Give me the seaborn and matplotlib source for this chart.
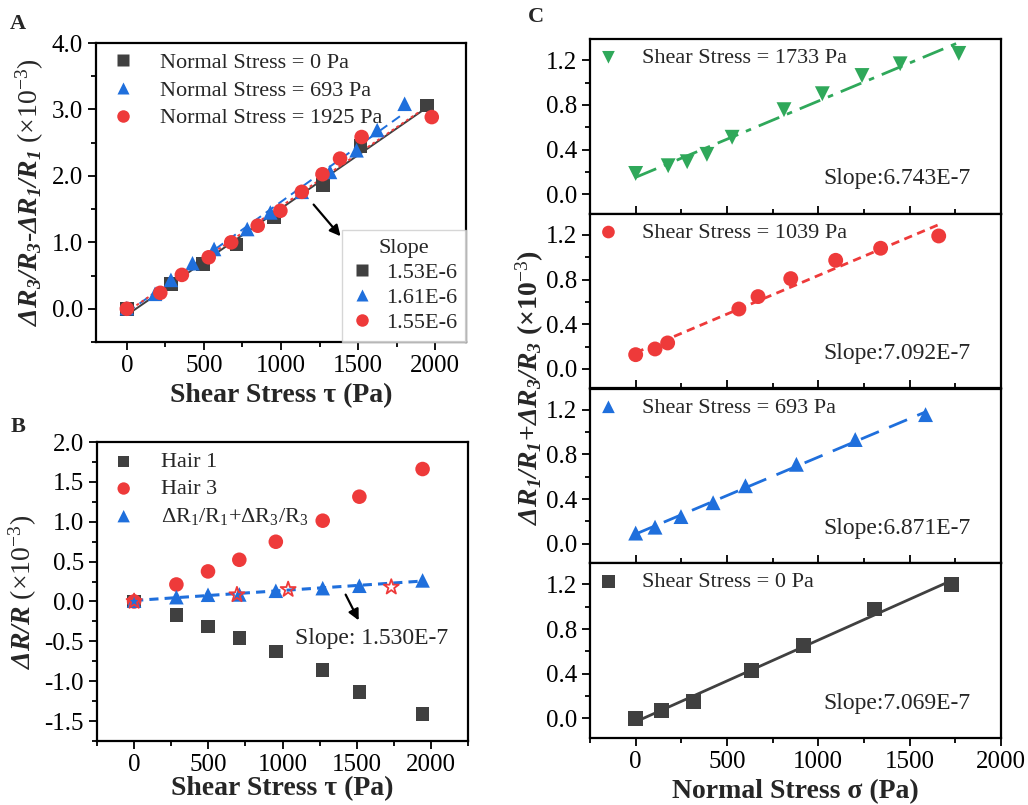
import numpy as np
import pandas as pd
import matplotlib.pyplot as plt
import seaborn as sns
from matplotlib.ticker import AutoMinorLocator, FormatStrFormatter

# ---- panel A data (x10^-3) ----
a0_x = [0, 286, 495, 710, 953, 1271, 1516, 1946]
a0_y = [0.0, 0.375, 0.675, 0.965, 1.375, 1.86, 2.45, 3.06]
a693_x = [0, 183, 286, 426, 566, 781, 931, 1135, 1318, 1490, 1624, 1802]
a693_y = [0.01, 0.225, 0.435, 0.685, 0.9, 1.2, 1.45, 1.76, 2.06, 2.385, 2.69, 3.085]
a1925_x = [0, 217, 357, 531, 677, 849, 996, 1135, 1269, 1383, 1523, 1978]
a1925_y = [0.0, 0.24, 0.51, 0.775, 1.0, 1.25, 1.475, 1.76, 2.025, 2.26, 2.585, 2.885]
a_labels = ['Normal Stress = 0 Pa', 'Normal Stress = 693 Pa', 'Normal Stress = 1925 Pa']
a_slopes = ['1.53E-6', '1.61E-6', '1.55E-6']

# ---- panel B data ----
b_x = [0, 285, 498, 709, 955, 1271, 1518, 1944]
hair1 = [0.0, -0.167, -0.314, -0.456, -0.628, -0.858, -1.134, -1.41]
hair3 = [0.0, 0.213, 0.377, 0.523, 0.749, 1.013, 1.314, 1.661]
hair_sum = [0.01, 0.054, 0.084, 0.088, 0.134, 0.167, 0.197, 0.264]
star_x = [0, 693, 1038, 1733]
star_y = [0.0, 0.084, 0.15, 0.18]

# ---- panel C data ----
c1733_x = [0, 178, 282, 390, 528, 812, 1022, 1239, 1448, 1769]
c1733_y = [0.186, 0.255, 0.291, 0.357, 0.51, 0.757, 0.9, 1.063, 1.168, 1.261]
c1039_x = [0, 106, 175, 565, 670, 849, 1095, 1341, 1659]
c1039_y = [0.128, 0.179, 0.233, 0.537, 0.648, 0.809, 0.973, 1.081, 1.191]
c693_x = [0, 106, 248, 424, 601, 880, 1202, 1587]
c693_y = [0.095, 0.148, 0.243, 0.367, 0.519, 0.711, 0.933, 1.156]
c0_x = [0, 142, 317, 634, 920, 1308, 1730]
c0_y = [0.0, 0.069, 0.151, 0.431, 0.657, 0.98, 1.2]
c_slopes = ['Slope:6.743E-7', 'Slope:7.092E-7', 'Slope:6.871E-7', 'Slope:7.069E-7']
c_labels = ['Shear Stress = 1733 Pa', 'Shear Stress = 1039 Pa',
            'Shear Stress = 693 Pa', 'Shear Stress = 0 Pa']

GRAY = '#404040'
BLUE = '#1f6fdc'
RED = '#ee3a3a'
GREEN = '#2fa85a'

sns.set_theme(style="ticks")
plt.rcParams['font.family'] = ['Liberation Serif', 'DejaVu Serif']
plt.rcParams['mathtext.fontset'] = 'custom'
plt.rcParams['mathtext.rm'] = 'Liberation Serif'
plt.rcParams['mathtext.it'] = 'Liberation Serif:italic'
plt.rcParams['mathtext.bf'] = 'Liberation Serif:bold'
plt.rcParams['mathtext.bfit'] = 'Liberation Serif:italic:bold'
plt.rcParams['axes.unicode_minus'] = False

fig = plt.figure(figsize=(10.28, 8.05), dpi=100)
W, H = 1028, 805


def box(l, t, r, b):
    return [l / W, 1 - b / H, (r - l) / W, (b - t) / H]


def style(ax, direction='out'):
    for s in ax.spines.values():
        s.set_linewidth(1.6)
        s.set_color('black')
    ax.tick_params(which='both', direction=direction, width=1.3, labelsize=18,
                   colors='black', top=False, right=False)
    ax.tick_params(which='major', length=6)
    ax.tick_params(which='minor', length=3.5)
    ax.xaxis.set_minor_locator(AutoMinorLocator(2))
    ax.yaxis.set_minor_locator(AutoMinorLocator(2))


# ================= A =================
axA = fig.add_axes(box(96, 43, 466, 342))
sets = [(a0_x, a0_y, GRAY, 's', '-', 95), (a693_x, a693_y, BLUE, '^', (0, (5, 3)), 110),
        (a1925_x, a1925_y, RED, 'o', (0, (1.5, 1.5)), 110)]
handles = []
for (x, y, c, m, ls, sz), lab in zip(sets, a_labels):
    df = pd.DataFrame({'x': x, 'y': y})
    sns.scatterplot(data=df, x='x', y='y', ax=axA, color=c, marker=m, s=sz,
                    edgecolor='none', zorder=3)
    sns.regplot(data=df, x='x', y='y', ax=axA, scatter=False, ci=None,
                line_kws=dict(color=c, ls=ls, lw=1.4, zorder=2))
    handles.append(plt.Line2D([], [], color=c, marker=m, ls='none', markersize=9,
                              markeredgecolor='none'))
leg1 = axA.legend(handles, a_labels, loc='upper left', frameon=False, fontsize=16,
                  handlelength=1.0, handletextpad=1.2, labelspacing=0.32,
                  bbox_to_anchor=(0.0, 1.02), borderaxespad=0.3)
axA.add_artist(leg1)
leg2 = axA.legend(handles, a_slopes, loc='lower right', frameon=True, fontsize=16,
                  title='Slope', title_fontsize=16, handlelength=1.0, handletextpad=0.6,
                  labelspacing=0.2, borderaxespad=0.0, fancybox=False,
                  bbox_to_anchor=(1.0, 0.0))
leg2.get_frame().set_edgecolor('#cccccc')
leg2.get_frame().set_linewidth(1.0)
axA.annotate('', xy=(1398, 1.06), xytext=(1200, 1.6),
             arrowprops=dict(arrowstyle='-|>', color='black', lw=1.6, mutation_scale=16))
axA.set_xlim(-200, 2200)
axA.set_ylim(-0.5, 4.0)
axA.set_xticks([0, 500, 1000, 1500, 2000])
axA.set_yticks([0, 1, 2, 3, 4])
axA.yaxis.set_major_formatter(FormatStrFormatter('%.1f'))
style(axA)
axA.set_xlabel('Shear Stress τ (Pa)', fontsize=20, fontweight='bold', labelpad=4)
axA.set_ylabel(r'$\mathbfit{\Delta R_3/R_3}$-$\mathbfit{\Delta R_1/R_1}$ (×10$^{-3}$)',
               fontsize=20, labelpad=4)

# ================= B =================
axB = fig.add_axes(box(97, 442, 468, 741))
dfB = pd.DataFrame({'x': b_x, 'h1': hair1, 'h3': hair3, 'hs': hair_sum})
sns.scatterplot(data=dfB, x='x', y='h1', ax=axB, color=GRAY, marker='s', s=95,
                edgecolor='none', zorder=3, label='Hair 1')
sns.scatterplot(data=dfB, x='x', y='h3', ax=axB, color=RED, marker='o', s=110,
                edgecolor='none', zorder=3, label='Hair 3')
sns.scatterplot(data=dfB, x='x', y='hs', ax=axB, color=BLUE, marker='^', s=110,
                edgecolor='none', zorder=3, label=r'$\mathrm{\Delta R_1/R_1}$+$\mathrm{\Delta R_3/R_3}$')
sns.regplot(data=dfB, x='x', y='hs', ax=axB, scatter=False, ci=None,
            line_kws=dict(color=BLUE, ls=(0, (3, 2)), lw=2.2, zorder=2))
axB.scatter(star_x, star_y, marker='*', s=130, facecolor='none', edgecolor=RED,
            linewidth=1.3, zorder=4)
axB.legend(loc='upper left', frameon=False, fontsize=16, handlelength=1.0,
           handletextpad=1.2, labelspacing=0.3, markerscale=0.85,
           bbox_to_anchor=(0.0, 1.02), borderaxespad=0.3)
axB.annotate('', xy=(1522, -0.268), xytext=(1417, 0.117),
             arrowprops=dict(arrowstyle='-|>', color='black', lw=1.6, mutation_scale=16))
axB.text(1085, -0.469, 'Slope: 1.530E-7', va='center', ha='left', fontsize=17)
axB.set_xlim(-250, 2250)
axB.set_ylim(-1.75, 2.0)
axB.set_xticks([0, 500, 1000, 1500, 2000])
axB.set_yticks(np.arange(-1.5, 2.01, 0.5))
axB.yaxis.set_major_formatter(FormatStrFormatter('%.1f'))
style(axB)
axB.set_xlabel('Shear Stress τ (Pa)', fontsize=20, fontweight='bold', labelpad=0)
axB.set_ylabel(r'$\mathbfit{\Delta R/R}$ (×10$^{-3}$)', fontsize=20, labelpad=4)

# ================= C =================
c_sets = [(c1733_x, c1733_y, GREEN, 'v', (0, (8, 3, 2, 3))),
          (c1039_x, c1039_y, RED, 'o', (0, (3, 2))),
          (c693_x, c693_y, BLUE, '^', (0, (7, 4))),
          (c0_x, c0_y, GRAY, 's', '-')]
top = 39.0
h = (738 - 39) / 4
for i, ((x, y, c, m, ls), lab, sl) in enumerate(zip(c_sets, c_labels, c_slopes)):
    ax = fig.add_axes(box(590, top + i * h, 1001, top + (i + 1) * h))
    df = pd.DataFrame({'x': x, 'y': y})
    sns.scatterplot(data=df, x='x', y='y', ax=ax, color=c, marker=m, s=115,
                    edgecolor='none', zorder=3, label=lab)
    sns.regplot(data=df, x='x', y='y', ax=ax, scatter=False, ci=None,
                line_kws=dict(color=c, ls=ls, lw=2.0, zorder=2))
    ax.legend(loc='upper left', frameon=False, fontsize=16, handlelength=1.0,
              handletextpad=1.0, markerscale=0.85, bbox_to_anchor=(-0.02, 1.04),
              borderaxespad=0.3)
    ax.text(0.925, 0.2, sl, transform=ax.transAxes, ha='right', va='center', fontsize=17)
    ax.set_xlim(-250, 2000)
    ax.set_ylim(-0.175, 1.39)
    ax.set_xticks([0, 500, 1000, 1500, 2000])
    ax.set_yticks([0.0, 0.4, 0.8, 1.2])
    ax.yaxis.set_major_formatter(FormatStrFormatter('%.1f'))
    ax.set_ylabel('')
    style(ax)
    if i < 3:
        ax.tick_params(axis='x', which='both', direction='in', labelbottom=False)
        ax.set_xlabel('')
    else:
        ax.set_xlabel('Normal Stress σ (Pa)', fontsize=20, fontweight='bold', labelpad=4)

fig.text(530 / W, 1 - 388 / H,
         r'$\mathbfit{\Delta R_1/R_1}$+$\mathbfit{\Delta R_3/R_3}$ (×10$^{-3}$)',
         rotation=90, ha='center', va='center', fontsize=20, fontweight='bold')

fig.text(18 / W, 1 - 24 / H, 'A', fontsize=16, fontweight='bold', ha='center', va='center')
fig.text(18 / W, 1 - 427 / H, 'B', fontsize=16, fontweight='bold', ha='center', va='center')
fig.text(536 / W, 1 - 17 / H, 'C', fontsize=16, fontweight='bold', ha='center', va='center')

fig.savefig('out.png', dpi=100)
